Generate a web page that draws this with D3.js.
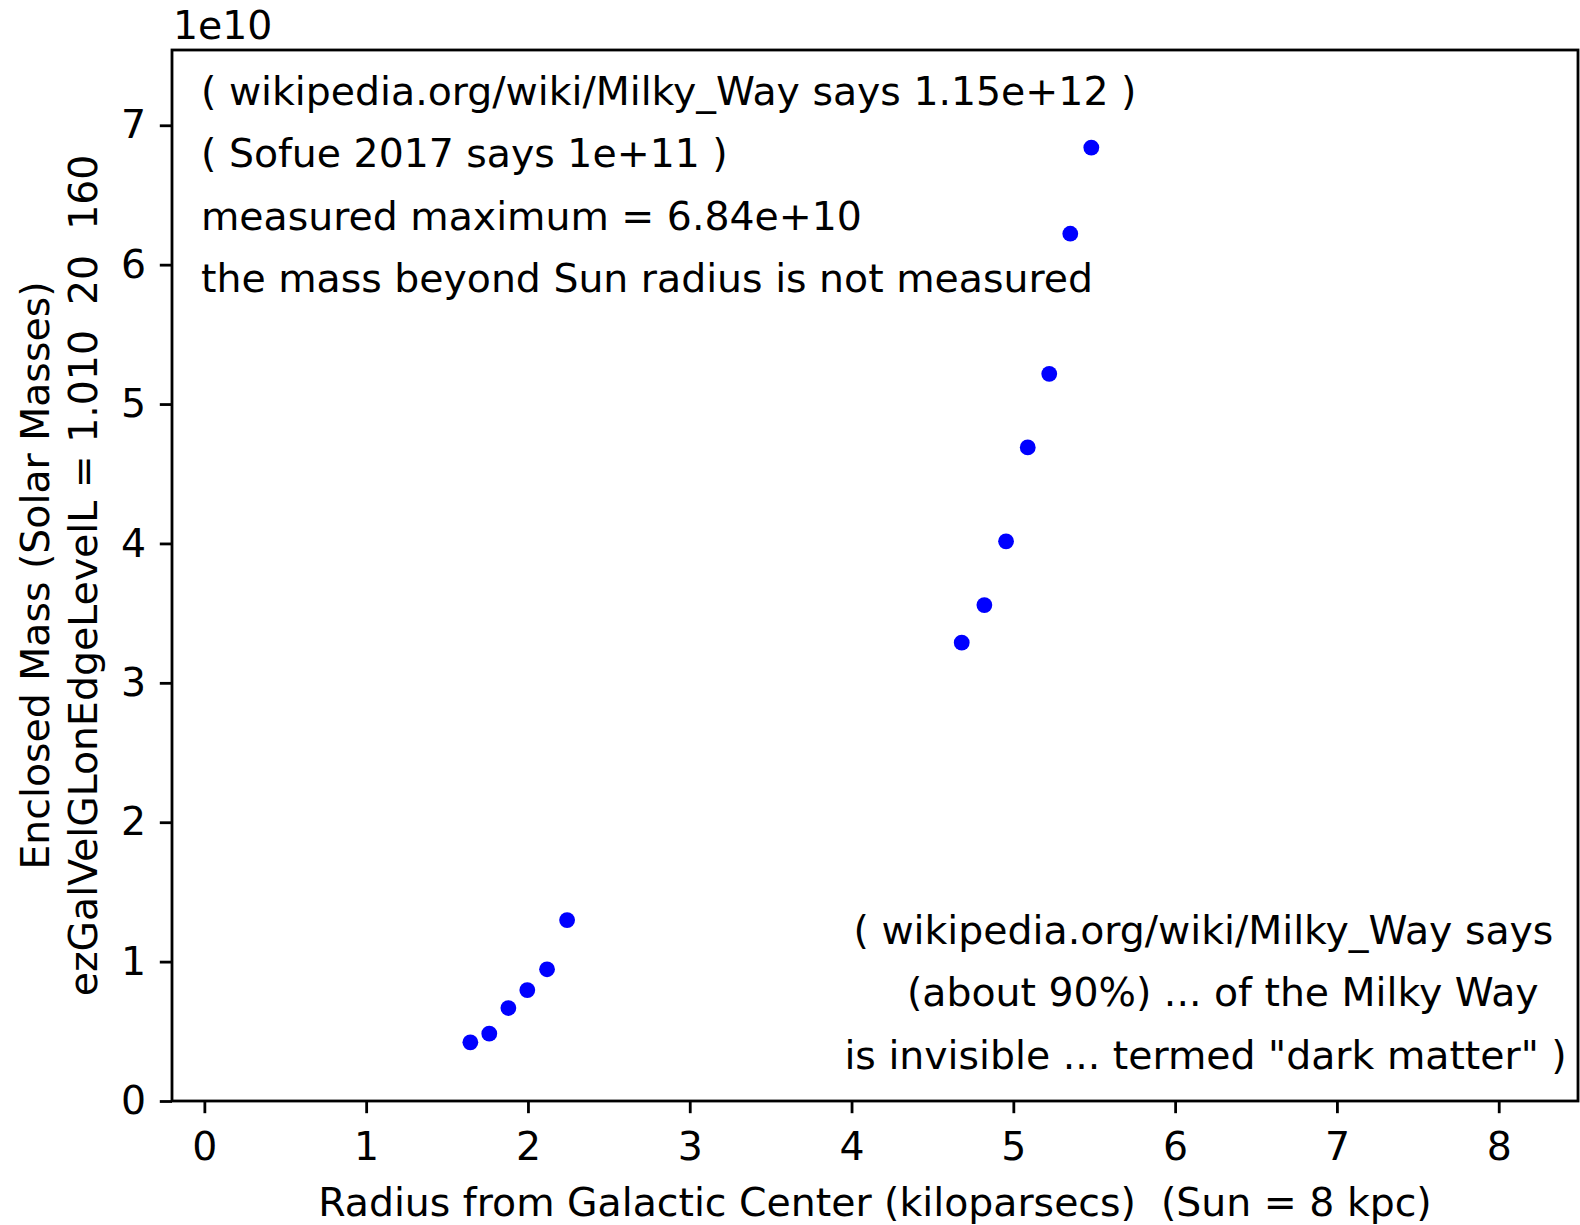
<!DOCTYPE html>
<html>
<head>
<meta charset="utf-8">
<script src="https://cdn.jsdelivr.net/npm/d3@7"></script>
<style>
  html, body { margin: 0; padding: 0; background: #ffffff; }
  svg { display: block; }
  text { font-family: "DejaVu Sans", sans-serif; fill: #000; white-space: pre; }
</style>
</head>
<body>
<svg id="chart" width="1580" height="1225"></svg>
<script>
// Enclosed mass of the Milky Way versus galactocentric radius
const radiusKpc = [1.644, 1.761, 1.879, 1.996, 2.118, 2.242, 4.681, 4.821, 4.955, 5.089, 5.222, 5.352, 5.482];
const enclosedMass = [0.421e10, 0.483e10, 0.667e10, 0.796e10, 0.945e10, 1.298e10, 3.288e10, 3.558e10, 4.015e10, 4.689e10, 5.217e10, 6.222e10, 6.84e10];

const xTicks = [0, 1, 2, 3, 4, 5, 6, 7, 8];
const yTicks = [0, 1e10, 2e10, 3e10, 4e10, 5e10, 6e10, 7e10];
const yOffsetLabel = "1e10";

const notesTop = [
  "( wikipedia.org/wiki/Milky_Way says 1.15e+12 )",
  "( Sofue 2017 says 1e+11 )",
  "measured maximum = 6.84e+10",
  "the mass beyond Sun radius is not measured"
];
const notesBottom = [
  "( wikipedia.org/wiki/Milky_Way says",
  "(about 90%) ... of the Milky Way",
  "is invisible ... termed \"dark matter\" )"
];
const xLabel = "Radius from Galactic Center (kiloparsecs)  (Sun = 8 kpc)";
const yLabelLines = ["Enclosed Mass (Solar Masses)", "ezGalVelGLonEdgeLevelL = 1.010  20  160"];

const FS = 39.4;
const plotL = 172, plotR = 1578, plotT = 50, plotB = 1101;

const svg = d3.select("#chart");

const x = d3.scaleLinear().domain([-0.2, 8.49]).range([plotL, plotR]);
const y = d3.scaleLinear().domain([0, 7.54e10]).range([plotB, plotT]);

// points
svg.append("g")
  .selectAll("circle")
  .data(radiusKpc.map((r, i) => [r, enclosedMass[i]]))
  .join("circle")
  .attr("cx", d => x(d[0]))
  .attr("cy", d => y(d[1]))
  .attr("r", 7.9)
  .attr("fill", "#0000ff");

// axes
const xAxis = d3.axisBottom(x).tickValues(xTicks).tickSize(12.2).tickPadding(18.8)
  .tickFormat(d3.format("d"));
const yAxis = d3.axisLeft(y).tickValues(yTicks).tickSize(12.2).tickPadding(13.8)
  .tickFormat(d => String(Math.round(d / 1e10)));

const gx = svg.append("g").attr("transform", `translate(0,${plotB})`).call(xAxis);
const gy = svg.append("g").attr("transform", `translate(${plotL},0)`).call(yAxis);

[gx, gy].forEach(g => {
  g.select(".domain").remove();
  g.selectAll(".tick line").attr("stroke", "#000").attr("stroke-width", 2.8);
  g.selectAll(".tick text").style("font-size", FS + "px").style("font-family", "DejaVu Sans").attr("fill", "#000");
});

// frame
svg.append("rect")
  .attr("x", plotL).attr("y", plotT)
  .attr("width", plotR - plotL).attr("height", plotB - plotT)
  .attr("fill", "none").attr("stroke", "#000").attr("stroke-width", 2.8);

// offset text for the y axis
svg.append("text").attr("x", 173).attr("y", 39.3)
  .style("font-size", FS + "px").text(yOffsetLabel);

// notes in upper left
svg.append("g").selectAll("text")
  .data(notesTop)
  .join("text")
  .attr("x", 201)
  .attr("y", (d, i) => 104.8 + i * 62.5)
  .style("font-size", FS + "px")
  .text(d => d);

// notes in lower right
const bottomX = [853.5, 906.9, 844.4];
svg.append("g").selectAll("text")
  .data(notesBottom)
  .join("text")
  .attr("x", (d, i) => bottomX[i])
  .attr("y", (d, i) => 943.8 + i * 62.5)
  .style("font-size", FS + "px")
  .text(d => d);

// axis labels
svg.append("text")
  .attr("x", (plotL + plotR) / 2).attr("y", 1216)
  .attr("text-anchor", "middle")
  .style("font-size", FS + "px")
  .text(xLabel);

const yl = svg.append("g");
const yLabelBase = [48.8, 97];
yLabelLines.forEach((line, i) => {
  yl.append("text")
    .attr("transform", `translate(${yLabelBase[i]},${(plotT + plotB) / 2}) rotate(-90)`)
    .attr("text-anchor", "middle")
    .style("font-size", FS + "px")
    .text(line);
});
</script>
</body>
</html>
